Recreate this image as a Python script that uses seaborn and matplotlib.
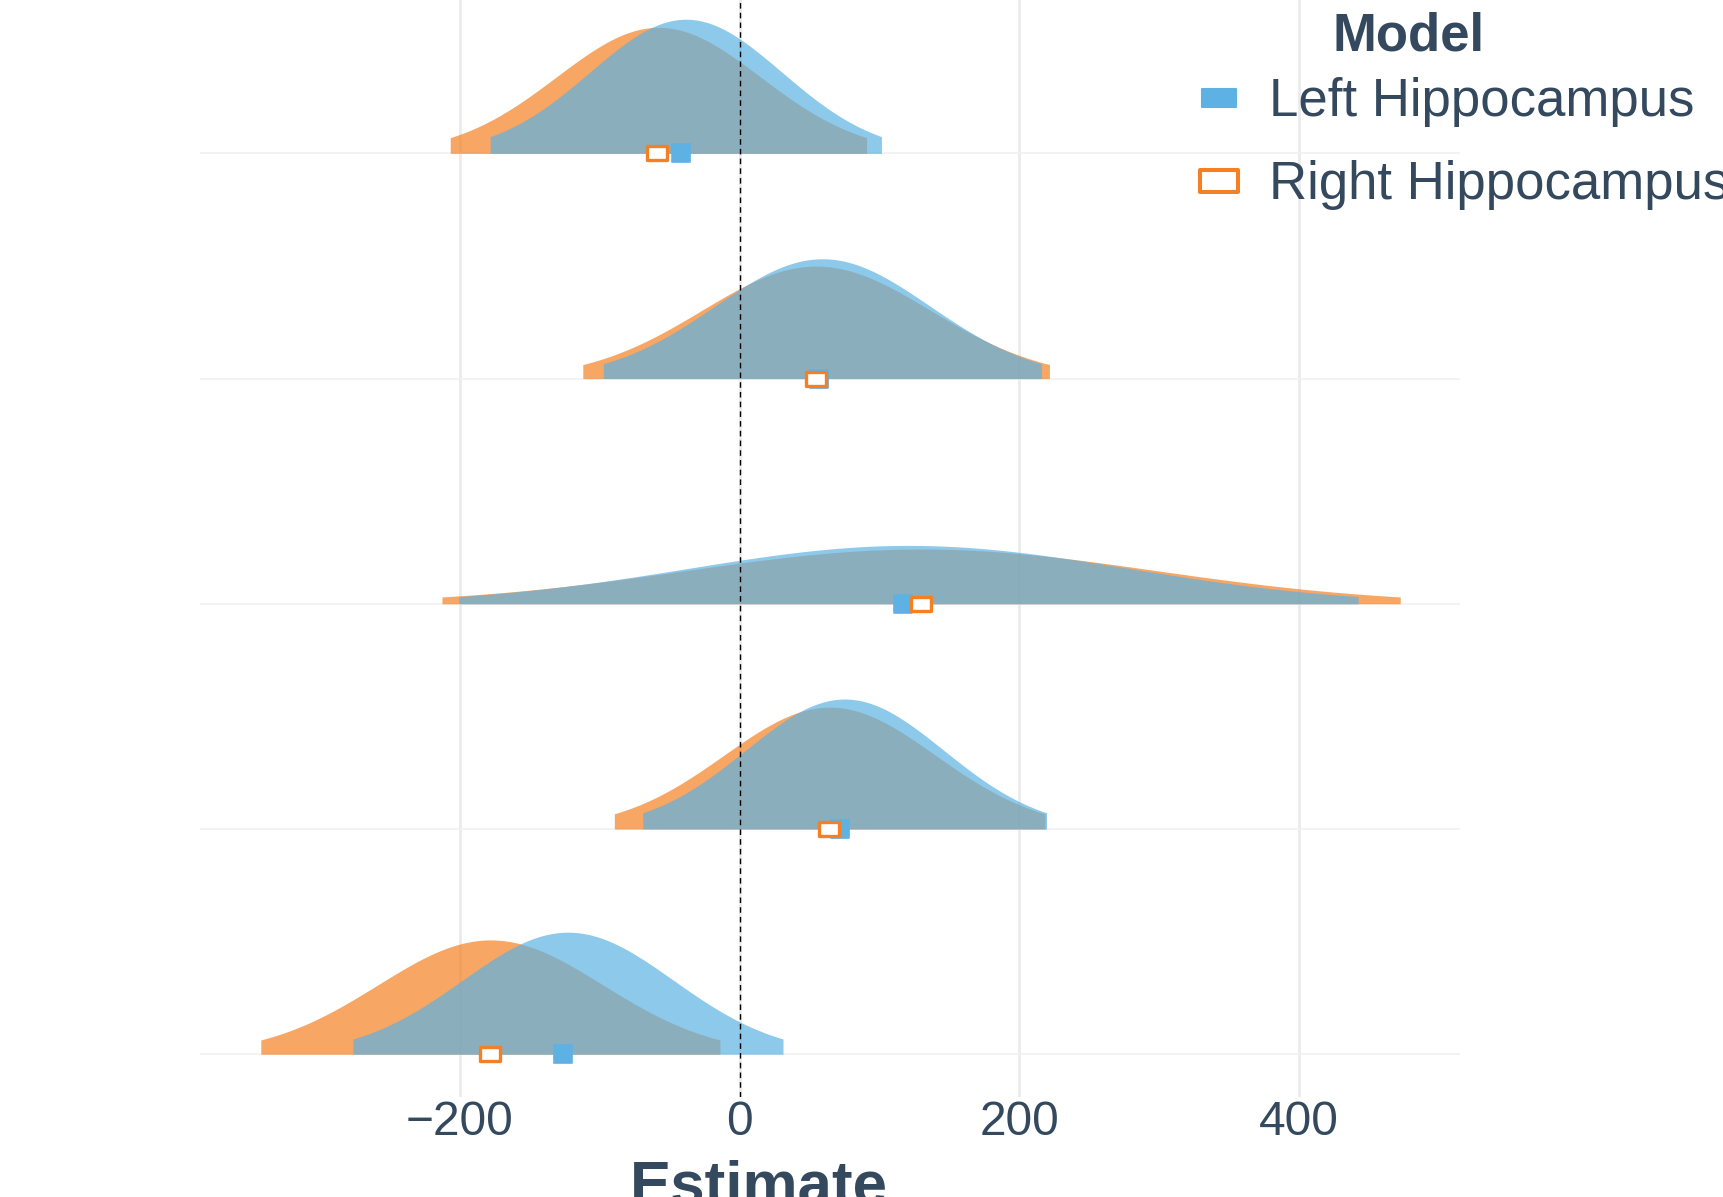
import numpy as np
import pandas as pd
import matplotlib
matplotlib.use("Agg")
import matplotlib.pyplot as plt
import seaborn as sns
from matplotlib.path import Path
from matplotlib.lines import Line2D

# ---------------- data ----------------
models = ["Left Hippocampus", "Right Hippocampus"]
row_pos = [4, 3, 2, 1, 0]                      # rows, top to bottom
left_mean = [-38.4, 59.3, 121.0, 75.2, -122.7]
left_sd = [68.6, 76.8, 157.6, 70.8, 75.4]
right_mean = [-58.0, 54.8, 129.9, 64.5, -178.2]
right_sd = [73.0, 81.8, 168.0, 75.5, 80.5]
left_point = [-42.0, 57.0, 117.0, 72.0, -126.4]
right_point = [-59.0, 54.7, 129.6, 64.0, -178.3]
interval_z = 2.04                               # densities drawn over mean +/- z*sd
xticks = [-200, 0, 200, 400]

# ---------------- style ----------------
BLUE = "#5DB2E3"
ORANGE = "#F48023"
TEXT = "#34495E"
GRID = "#EBEBEB"
DENS_SCALE = 102.4

sns.set_theme(style="white")
plt.rcParams["font.family"] = ["Liberation Sans", "DejaVu Sans"]

W_PX, H_PX = 1723, 1197
fig = plt.figure(figsize=(W_PX / 100, H_PX / 100), dpi=100)
ax_l, ax_r, ax_b, ax_t = 200, 1460, 1097, 0
ax = fig.add_axes([ax_l / W_PX, 1 - ax_b / H_PX, (ax_r - ax_l) / W_PX, (ax_b - ax_t) / H_PX])

def density(mean, sd, row):
    x = np.linspace(mean - interval_z * sd, mean + interval_z * sd, 400)
    pdf = np.exp(-0.5 * ((x - mean) / sd) ** 2) / (sd * np.sqrt(2 * np.pi))
    return x, row + DENS_SCALE * pdf

for i, r in enumerate(row_pos):
    x, y = density(right_mean[i], right_sd[i], r)
    ax.fill_between(x, r, y, color=ORANGE, alpha=0.7, lw=0, zorder=2)
    x, y = density(left_mean[i], left_sd[i], r)
    ax.fill_between(x, r, y, color=BLUE, alpha=0.7, lw=0, zorder=2.1)

ax.axvline(0, color="black", lw=1.0, ls=(0, (4, 3)), zorder=3)

def rect_marker(aspect):
    return Path([(-aspect, -1), (aspect, -1), (aspect, 1), (-aspect, 1), (-aspect, -1)],
                [Path.MOVETO, Path.LINETO, Path.LINETO, Path.LINETO, Path.CLOSEPOLY])

pts = pd.DataFrame({
    "Estimate": left_point + right_point,
    "row": row_pos + row_pos,
    "Model": [models[0]] * 5 + [models[1]] * 5,
})
sns.scatterplot(data=pts[pts.Model == models[0]], x="Estimate", y="row", ax=ax,
                marker="s", s=13 ** 2, color=BLUE, edgecolor=BLUE, linewidth=1.2,
                joinstyle="round", zorder=4, legend=False)
sns.scatterplot(data=pts[pts.Model == models[1]], x="Estimate", y="row", ax=ax,
                marker=rect_marker(1.4), s=15 ** 2, color="white", edgecolor=ORANGE,
                linewidth=2.4, joinstyle="round", zorder=5, legend=False)

ax.set_xlim((ax_l - 739.5) / 1.398, (ax_r - 739.5) / 1.398)
ax.set_ylim(-0.190, 4.681)
ax.set_xticks(xticks)
ax.set_yticks(row_pos)
ax.set_yticklabels([])
ax.grid(axis="x", color=GRID, lw=2.0, zorder=0)
ax.grid(axis="y", color="#F1F1F1", lw=1.2, zorder=0)
ax.set_axisbelow(True)
for s in ax.spines.values():
    s.set_visible(False)
ax.tick_params(axis="both", length=0)
ax.tick_params(axis="x", labelsize=34.5, labelcolor=TEXT, pad=2)
ax.set_ylabel("")
ax.set_xlabel("Estimate", fontsize=44.6, fontweight="bold", color=TEXT)
ax.xaxis.set_label_coords((758.5 - ax_l) / (ax_r - ax_l), (H_PX - 1159 - (H_PX - ax_b)) / (ax_b - ax_t))

LEG_FS = 38.0
fs_px = LEG_FS * 100 / 72
handles = [
    Line2D([], [], ls="none", marker=rect_marker(1.8), ms=23.8, mfc=BLUE, mec=BLUE, mew=1.5),
    Line2D([], [], ls="none", marker=rect_marker(1.77), ms=28, mfc="white", mec=ORANGE, mew=2.9),
]
leg = ax.legend(handles, models, title="Model", loc="upper left",
                bbox_to_anchor=(1193 / W_PX, 1 + 5.5 / H_PX), bbox_transform=fig.transFigure,
                frameon=False, borderpad=0, borderaxespad=0,
                handlelength=51.8 / fs_px, handletextpad=24 / fs_px,
                handleheight=0.72, labelspacing=0.625, alignment="left",
                prop={"size": LEG_FS},
                title_fontproperties={"size": LEG_FS, "weight": "bold"})
for t in leg.get_texts():
    t.set_color(TEXT)
title = leg.get_title()
title.set_color(TEXT)
title.set_x(139)   # shift title (pixels) to where the reference shows it
title.set_y(-17)

fig.savefig("out.png", dpi=100)
